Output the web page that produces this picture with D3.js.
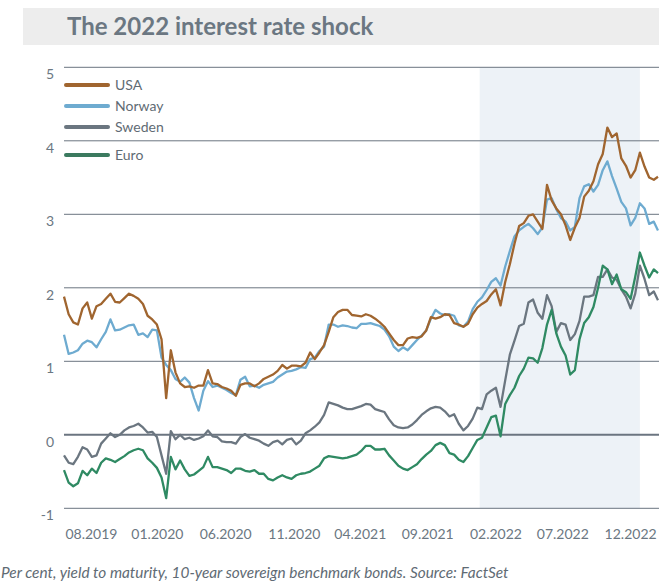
<!DOCTYPE html>
<html><head><meta charset="utf-8">
<script src="https://cdn.jsdelivr.net/npm/d3@7"></script>
<style>
html,body{margin:0;padding:0;background:#fff;}
svg{display:block;font-family:Lato,"Open Sans",sans-serif;}
</style></head>
<body><svg id="chart" width="659" height="585"></svg>
<script>
const dates = ["2019-08-01","2019-08-11","2019-08-21","2019-08-31","2019-09-10","2019-09-20","2019-09-30","2019-10-10","2019-10-20","2019-10-30",
"2019-11-09","2019-11-19","2019-11-29","2019-12-09","2019-12-19","2019-12-29","2020-01-08","2020-01-18","2020-01-28","2020-02-07",
"2020-02-17","2020-02-27","2020-03-08","2020-03-18","2020-03-28","2020-04-07","2020-04-17","2020-04-27","2020-05-07","2020-05-17",
"2020-05-27","2020-06-06","2020-06-16","2020-06-26","2020-07-06","2020-07-16","2020-07-26","2020-08-05","2020-08-15","2020-08-25",
"2020-09-04","2020-09-14","2020-09-24","2020-10-04","2020-10-14","2020-10-24","2020-11-03","2020-11-13","2020-11-23","2020-12-03",
"2020-12-13","2020-12-23","2021-01-02","2021-01-12","2021-01-22","2021-02-01","2021-02-11","2021-02-21","2021-03-03","2021-03-13",
"2021-03-23","2021-04-02","2021-04-12","2021-04-22","2021-05-02","2021-05-12","2021-05-22","2021-06-01","2021-06-11","2021-06-21",
"2021-07-01","2021-07-11","2021-07-21","2021-07-31","2021-08-10","2021-08-20","2021-08-30","2021-09-09","2021-09-19","2021-09-29",
"2021-10-09","2021-10-19","2021-10-29","2021-11-08","2021-11-18","2021-11-28","2021-12-08","2021-12-18","2021-12-28","2022-01-07",
"2022-01-17","2022-01-27","2022-02-06","2022-02-16","2022-02-26","2022-03-08","2022-03-18","2022-03-28","2022-04-07","2022-04-17",
"2022-04-27","2022-05-07","2022-05-17","2022-05-27","2022-06-06","2022-06-16","2022-06-26","2022-07-06","2022-07-16","2022-07-26",
"2022-08-05","2022-08-15","2022-08-25","2022-09-04","2022-09-14","2022-09-24","2022-10-04","2022-10-14","2022-10-24","2022-11-03",
"2022-11-13","2022-11-23","2022-12-03","2022-12-13","2022-12-23","2023-01-02","2023-01-12","2023-01-22","2023-01-31"];

const usa = [1.88,1.64,1.53,1.50,1.72,1.80,1.58,1.75,1.78,1.85,
1.92,1.81,1.80,1.86,1.92,1.89,1.85,1.78,1.62,1.57,
1.50,1.30,0.50,1.15,0.85,0.70,0.65,0.66,0.64,0.67,
0.67,0.88,0.70,0.69,0.65,0.63,0.60,0.53,0.68,0.70,
0.70,0.66,0.70,0.76,0.79,0.82,0.87,0.95,0.90,0.94,
0.94,0.93,0.98,1.12,1.03,1.12,1.22,1.40,1.60,1.67,
1.70,1.70,1.63,1.62,1.61,1.64,1.62,1.58,1.53,1.47,
1.38,1.29,1.22,1.22,1.31,1.33,1.32,1.34,1.42,1.60,
1.58,1.60,1.64,1.63,1.52,1.50,1.47,1.51,1.64,1.73,
1.78,1.82,1.91,1.98,1.76,2.08,2.32,2.60,2.84,2.88,
2.98,3.00,2.90,2.80,3.40,3.19,3.08,3.00,2.85,2.65,
2.82,2.95,3.24,3.32,3.45,3.68,3.82,4.18,4.05,4.10,
3.76,3.66,3.50,3.60,3.84,3.65,3.50,3.47,3.51];

const norway = [1.36,1.10,1.12,1.15,1.24,1.28,1.26,1.19,1.30,1.40,
1.57,1.42,1.43,1.46,1.49,1.50,1.36,1.38,1.33,1.43,
1.42,1.05,0.95,0.88,0.76,0.72,0.78,0.71,0.50,0.33,
0.60,0.73,0.65,0.67,0.64,0.61,0.57,0.54,0.75,0.79,
0.66,0.67,0.64,0.68,0.70,0.72,0.78,0.82,0.86,0.87,
0.89,0.92,0.91,1.03,1.05,1.14,1.20,1.50,1.50,1.47,
1.49,1.48,1.46,1.45,1.51,1.51,1.52,1.50,1.48,1.43,
1.34,1.20,1.14,1.19,1.15,1.22,1.29,1.35,1.42,1.58,
1.70,1.65,1.63,1.64,1.62,1.49,1.47,1.54,1.71,1.81,
1.87,1.97,2.08,2.13,2.03,2.29,2.50,2.70,2.78,2.83,
2.87,2.81,2.73,2.82,3.20,3.22,3.07,2.95,2.90,2.78,
2.83,3.22,3.38,3.41,3.31,3.40,3.60,3.72,3.52,3.35,
3.17,3.08,2.85,2.95,3.15,3.08,2.87,2.90,2.78];

const sweden = [-0.28,-0.38,-0.40,-0.30,-0.17,-0.20,-0.30,-0.28,-0.12,-0.05,
0.02,-0.03,0.00,0.06,0.10,0.12,0.15,0.10,0.03,0.04,
-0.03,-0.28,-0.53,0.05,-0.06,0.00,-0.06,-0.04,-0.07,-0.05,
-0.02,0.06,-0.02,-0.03,-0.09,-0.10,-0.10,-0.12,-0.03,0.01,
-0.04,-0.06,-0.08,-0.12,-0.15,-0.10,-0.08,-0.13,-0.07,-0.05,
-0.13,-0.08,0.02,0.06,0.11,0.17,0.27,0.44,0.42,0.40,
0.37,0.35,0.35,0.37,0.39,0.42,0.41,0.35,0.33,0.31,
0.21,0.13,0.10,0.09,0.10,0.14,0.20,0.27,0.32,0.36,
0.38,0.37,0.32,0.25,0.28,0.15,0.06,0.12,0.22,0.37,
0.35,0.55,0.60,0.64,0.38,0.74,1.09,1.28,1.48,1.51,
1.80,1.84,1.66,1.58,1.90,1.75,1.40,1.52,1.50,1.29,
1.37,1.55,1.88,1.88,1.90,2.15,2.15,2.25,2.14,2.11,
1.98,1.88,1.72,1.92,2.30,2.12,1.90,1.95,1.83];

const euro = [-0.48,-0.65,-0.70,-0.66,-0.49,-0.55,-0.46,-0.52,-0.38,-0.32,
-0.34,-0.37,-0.33,-0.29,-0.24,-0.21,-0.19,-0.21,-0.32,-0.38,
-0.45,-0.58,-0.86,-0.30,-0.47,-0.35,-0.47,-0.56,-0.54,-0.49,
-0.44,-0.30,-0.44,-0.44,-0.46,-0.48,-0.52,-0.46,-0.46,-0.49,
-0.50,-0.48,-0.53,-0.53,-0.60,-0.62,-0.58,-0.55,-0.58,-0.60,
-0.55,-0.53,-0.52,-0.50,-0.46,-0.42,-0.32,-0.29,-0.30,-0.31,
-0.32,-0.31,-0.29,-0.27,-0.22,-0.15,-0.15,-0.20,-0.20,-0.19,
-0.28,-0.35,-0.42,-0.46,-0.48,-0.44,-0.40,-0.33,-0.27,-0.22,
-0.14,-0.11,-0.14,-0.25,-0.27,-0.34,-0.37,-0.29,-0.18,-0.07,
-0.04,0.10,0.24,0.26,-0.02,0.42,0.54,0.64,0.80,0.90,
1.05,1.04,0.98,1.18,1.50,1.70,1.38,1.20,1.08,0.82,
0.88,1.30,1.52,1.60,1.74,2.00,2.30,2.25,2.05,2.18,
1.98,1.94,1.85,2.15,2.48,2.30,2.14,2.25,2.20];

const seriesNames = ["USA","Norway","Sweden","Euro"];
const seriesColors = ["#a0652f","#6eabd0","#6b7680","#2f8a63"];
const legendColors = ["#a0652f","#6eabd0","#6b7680","#3b7a5f"];
const yTicks = [5,4,3,2,1,0,-1];
const tickDates = ["2019-09-28","2020-02-17","2020-07-13","2020-12-08","2021-04-29","2021-09-21","2022-02-15","2022-07-09","2022-12-02"];
const tickLabels = ["08.2019","01.2020","06.2020","11.2020","04.2021","09.2021","02.2022","07.2022","12.2022"];
const shockPeriod = ["2022-01-12","2022-12-23"];
const title = "The 2022 interest rate shock";
const footnote = "Per cent, yield to maturity, 10-year sovereign benchmark bonds. Source: FactSet";

const parse = d3.utcParse("%Y-%m-%d");
const svg = d3.select("#chart");
const x = d3.scaleUtc().domain([parse("2019-08-01"), parse("2023-01-31")]).range([64, 658]);
const y = d3.scaleLinear().domain([-1, 5]).range([508.3, 67.3]);

// title bar
svg.append("rect").attr("x", 23).attr("y", 8).attr("width", 636).attr("height", 37).attr("fill", "#ededed");
svg.append("text").attr("x", 67).attr("y", 35).attr("font-size", 24).attr("font-weight", 700)
  .attr("fill", "#6b7782").text(title);

// shaded period
svg.append("rect").attr("x", x(parse(shockPeriod[0]))).attr("y", y(5))
  .attr("width", x(parse(shockPeriod[1])) - x(parse(shockPeriod[0]))).attr("height", y(-1) - y(5))
  .attr("fill", "#edf2f7");

// gridlines
svg.append("g").selectAll("line").data(yTicks).join("line")
  .attr("x1", 64).attr("x2", 659)
  .attr("y1", d => y(d)).attr("y2", d => y(d))
  .attr("stroke", "#6b7580").attr("stroke-width", d => d === 0 ? 2 : 1);

// y labels
svg.append("g").selectAll("text").data(yTicks).join("text")
  .attr("x", 54).attr("y", d => y(d) + 12).attr("text-anchor", "end")
  .attr("font-size", 14).attr("fill", "#6b7782").text(d => d);

// x labels
const xAxis = svg.append("g").attr("transform", "translate(0,523)")
  .call(d3.axisBottom(x).tickValues(tickDates.map(parse)).tickFormat((d, i) => tickLabels[i]).tickSize(0).tickPadding(6));
xAxis.select(".domain").remove();
xAxis.selectAll("text").attr("font-size", 14).attr("fill", "#6b7782").attr("font-family", "Lato, sans-serif");

// lines
const data = [usa, norway, sweden, euro];
const line = d3.line().x((d, i) => x(parse(dates[i]))).y(d => y(d)).curve(d3.curveLinear);
const order = [2, 3, 1, 0];
order.forEach(k => {
  svg.append("path").datum(data[k]).attr("d", line).attr("fill", "none")
    .attr("stroke", seriesColors[k]).attr("stroke-width", 2.3).attr("stroke-linejoin", "round");
});

// legend
const legendY = [85, 106, 127, 155];
seriesNames.forEach((n, i) => {
  svg.append("line").attr("x1", 66).attr("x2", 108).attr("y1", legendY[i]).attr("y2", legendY[i])
    .attr("stroke", legendColors[i]).attr("stroke-width", 4).attr("stroke-linecap", "round");
  svg.append("text").attr("x", 115).attr("y", legendY[i] + 5).attr("font-size", 14)
    .attr("fill", "#5f6b74").text(n);
});

// footnote
svg.append("text").attr("x", 1).attr("y", 578).attr("font-size", 15.4).attr("font-style", "italic")
  .attr("fill", "#5f6b74").text(footnote);
</script></body></html>
